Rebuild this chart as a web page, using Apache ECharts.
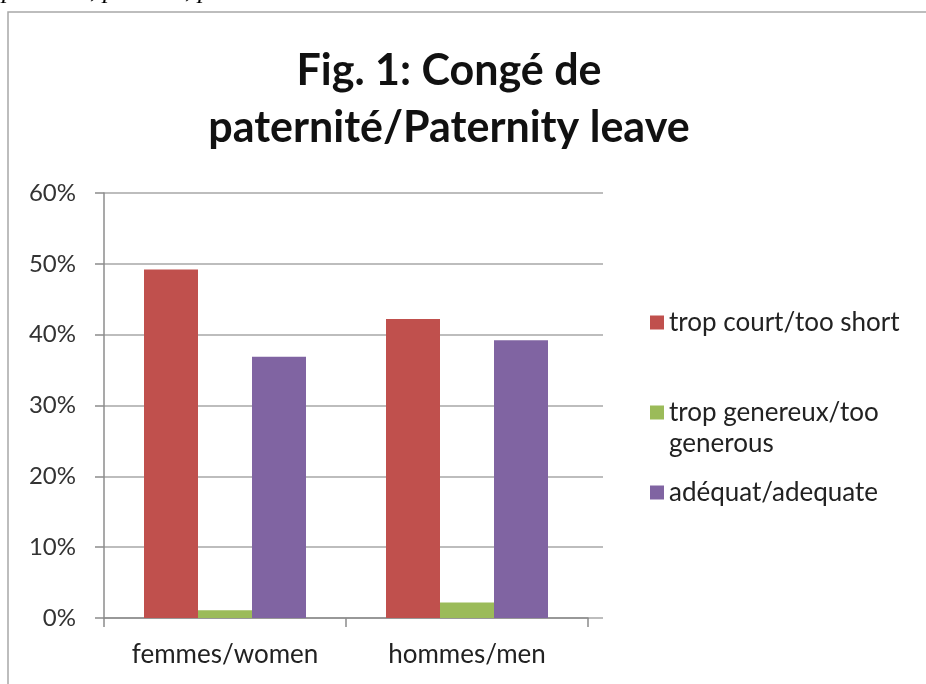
<!DOCTYPE html>
<html>
<head>
<meta charset="utf-8">
<script src="https://cdn.jsdelivr.net/npm/echarts@6/dist/echarts.min.js"></script>
<style>
  html, body { margin: 0; padding: 0; background: #fff; }
  #chart { width: 926px; height: 684px; }
</style>
</head>
<body>
<div id="chart"></div>
<script>
// data
const categories = ['femmes/women', 'hommes/men'];
const seriesNames = ['trop court/too short', 'trop genereux/too generous', 'adéquat/adequate'];
const tooShort = [0.492, 0.422];
const tooGenerous = [0.011, 0.022];
const adequate = [0.369, 0.392];
const yTicks = [0, 0.1, 0.2, 0.3, 0.4, 0.5, 0.6];

const COLORS = ['#c0504d', '#9bbb59', '#8064a2'];
const FONT = 'Lato';

const chart = echarts.init(document.getElementById('chart'));

const legendBase = {
  orient: 'vertical',
  left: 650,
  padding: 0,
  itemWidth: 14,
  itemHeight: 14,
  icon: 'rect',
  selectedMode: false,
  textStyle: { fontFamily: FONT, fontSize: 26, color: '#222', lineHeight: 31 },
};

const option = {
  backgroundColor: '#fff',
  animation: false,
  title: {
    text: 'Fig. 1: Congé de\npaternité/Paternity leave',
    left: 449,
    textAlign: 'center',
    top: 43,
    padding: 0,
    textStyle: { fontFamily: FONT, fontWeight: 'bold', fontSize: 43, lineHeight: 57, color: '#111' },
  },
  legend: [
    Object.assign({}, legendBase, { top: 307, data: [seriesNames[0]] }),
    Object.assign({}, legendBase, {
      top: 366, data: [seriesNames[1]],
      // blank first line keeps the first text line level with the swatch
      formatter: () => ' \ntrop genereux/too\ngenerous',
    }),
    Object.assign({}, legendBase, { top: 477, data: [seriesNames[2]] }),
  ],
  grid: [
    { left: 104, right: 338, top: 193, bottom: 66 },
    { left: 104, right: 323, top: 193, bottom: 66 },
  ],
  xAxis: [
    {
      type: 'category',
      data: categories,
      gridIndex: 0,
      axisLine: { lineStyle: { color: '#8c8c8c', width: 1.5 } },
      axisTick: { show: true, interval: 0, length: 9, lineStyle: { color: '#8c8c8c', width: 1.5 } },
      axisLabel: { interval: 0, fontFamily: FONT, fontSize: 26, color: '#222', margin: 24 },
    },
    { type: 'value', gridIndex: 1, show: false },
  ],
  yAxis: [
    {
      type: 'value',
      gridIndex: 0,
      min: 0,
      max: 0.6,
      interval: 0.1,
      axisLine: { show: true, lineStyle: { color: '#8c8c8c', width: 1.5 } },
      axisTick: { show: true, length: 9, lineStyle: { color: '#8c8c8c', width: 1.5 } },
      splitLine: { show: false },
      axisLabel: {
        fontFamily: FONT, fontSize: 24, color: '#333', margin: 28,
        formatter: v => yTicks.includes(Math.round(v * 10) / 10) ? Math.round(v * 100) + '%' : '',
      },
    },
    {
      type: 'value',
      gridIndex: 1,
      min: 0,
      max: 0.6,
      interval: 0.1,
      axisLine: { show: false },
      axisTick: { show: false },
      axisLabel: { show: false },
      splitLine: { show: true, lineStyle: { color: '#bdbdbd', width: 2 } },
    },
  ],
  series: [
    { name: seriesNames[0], type: 'bar', data: tooShort, barWidth: 54, barGap: '0%', itemStyle: { color: COLORS[0] }, z: 3 },
    { name: seriesNames[1], type: 'bar', data: tooGenerous, barWidth: 54, barGap: '0%', itemStyle: { color: COLORS[1] }, z: 3 },
    { name: seriesNames[2], type: 'bar', data: adequate, barWidth: 54, barGap: '0%', itemStyle: { color: COLORS[2] }, z: 3 },
  ],
  graphic: [
    {
      type: 'rect', z: -1,
      shape: { x: 8, y: 12, width: 960, height: 720 },
      style: { fill: 'none', stroke: '#a8a8a8', lineWidth: 1.5 },
    },
    {
      type: 'text', left: 2, top: -22,
      style: { text: 'p', font: 'italic 26px "Liberation Serif"', fill: '#000' },
    },
    {
      type: 'text', left: 90, top: -22,
      style: { text: ', p', font: 'italic 26px "Liberation Serif"', fill: '#000' },
    },
    {
      type: 'text', left: 185, top: -22,
      style: { text: ', p', font: 'italic 26px "Liberation Serif"', fill: '#000' },
    },
  ],
};

chart.setOption(option);
window.addEventListener('resize', () => chart.resize());
</script>
</body>
</html>
